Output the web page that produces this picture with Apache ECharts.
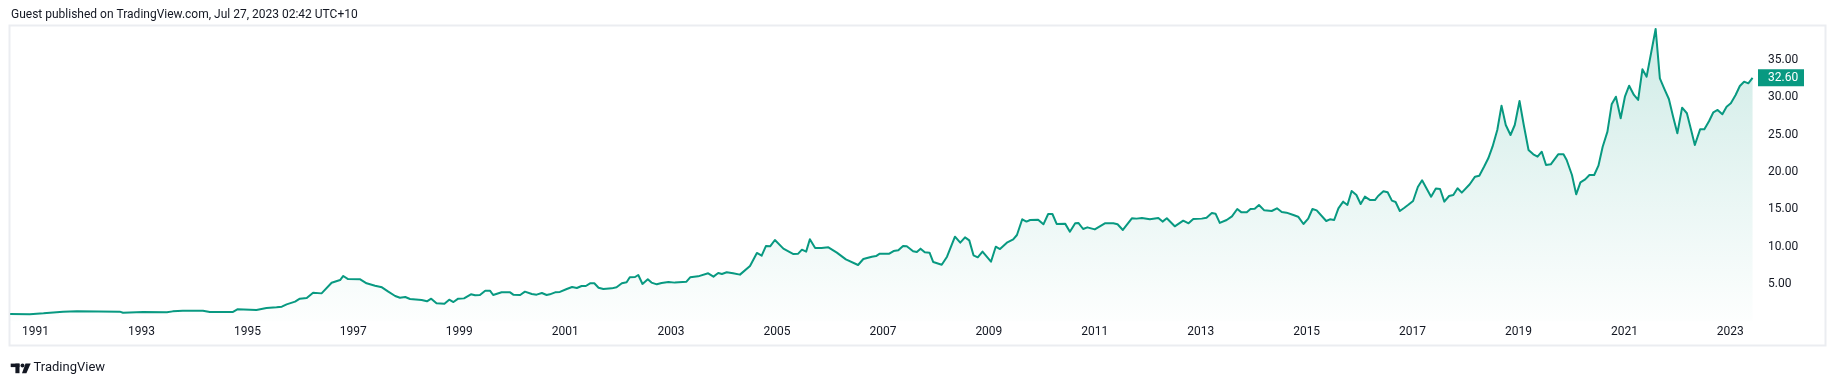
<!DOCTYPE html>
<html><head><meta charset="utf-8">
<style>html,body{margin:0;padding:0;background:#fff;}#chart{width:1836px;height:382px;}</style>
<script src="https://cdn.jsdelivr.net/npm/echarts@6/dist/echarts.min.js"></script>
</head><body><div id="chart"></div>
<script>
// ---- data (decimal years, prices) ----
const dates1990s = [1990.52,1990.89,1991.15,1991.52,1991.78,1992.59,1992.65,1993.03,1993.48,1993.59,1993.78,1994.16,1994.29,1994.72,1994.81,1995.17,1995.36,1995.55,1995.65,1995.74,1995.90,1995.99,1996.12,1996.24,1996.40,1996.59,1996.75,1996.81,1996.90,1997.13,1997.25,1997.41,1997.54,1997.66,1997.79,1997.88,1997.98,1998.07,1998.29,1998.39,1998.47,1998.57,1998.72,1998.81,1998.89,1998.98,1999.09,1999.22,1999.30,1999.39,1999.49,1999.58,1999.64,1999.80,1999.96];
const prices1990s = [0.98,0.96,1.07,1.29,1.33,1.29,1.15,1.24,1.20,1.33,1.42,1.42,1.24,1.24,1.60,1.51,1.78,1.87,1.96,2.27,2.63,3.03,3.12,3.83,3.74,5.17,5.53,6.07,5.66,5.62,5.09,4.77,4.55,3.97,3.39,3.16,3.25,2.99,2.85,2.68,3.03,2.41,2.36,2.90,2.58,3.03,3.07,3.61,3.48,3.52,4.10,4.10,3.52,3.88,3.88];

const dates2000s = [2000.02,2000.15,2000.24,2000.37,2000.46,2000.56,2000.65,2000.71,2000.81,2000.90,2001.03,2001.13,2001.22,2001.31,2001.39,2001.47,2001.55,2001.63,2001.72,2001.88,2001.97,2002.07,2002.16,2002.22,2002.32,2002.38,2002.46,2002.56,2002.63,2002.73,2002.82,2002.95,2003.07,2003.29,2003.36,2003.51,2003.70,2003.80,2003.89,2003.96,2004.05,2004.17,2004.30,2004.49,2004.62,2004.71,2004.79,2004.87,2004.96,2005.12,2005.31,2005.40,2005.47,2005.55,2005.62,2005.72,2005.84,2005.97,2006.13,2006.30,2006.53,2006.63,2006.79,2006.87,2006.94,2007.12,2007.20,2007.29,2007.38,2007.45,2007.57,2007.64,2007.71,2007.79,2007.88,2007.95,2008.11,2008.21,2008.36,2008.46,2008.55,2008.63,2008.71,2008.79,2008.88,2009.04,2009.13,2009.21,2009.35,2009.46,2009.53,2009.63,2009.71,2009.78,2009.93];
const prices2000s = [3.57,3.52,3.97,3.66,3.57,3.79,3.52,3.61,3.88,3.93,4.32,4.59,4.46,4.73,4.73,5.09,5.09,4.50,4.32,4.41,4.55,5.09,5.22,5.89,5.93,6.20,5.00,5.62,5.18,4.95,5.13,5.27,5.18,5.31,5.89,6.02,6.43,5.98,6.47,6.34,6.56,6.43,6.25,7.41,9.15,8.79,10.08,10.04,10.89,9.73,9.01,9.06,9.59,9.33,10.98,9.82,9.82,9.91,9.19,8.30,7.54,8.34,8.65,8.74,9.06,9.06,9.41,9.50,10.08,10.04,9.37,9.28,9.73,9.24,9.19,7.94,7.58,8.65,11.33,10.53,11.24,10.84,8.84,8.57,9.33,7.98,9.99,9.68,10.58,10.98,11.56,13.66,13.35,13.57,13.61];

const dates2010s = [2010.03,2010.12,2010.20,2010.28,2010.44,2010.53,2010.63,2010.69,2010.78,2010.86,2011.00,2011.19,2011.35,2011.43,2011.53,2011.70,2011.79,2011.89,2012.04,2012.20,2012.28,2012.36,2012.51,2012.67,2012.77,2012.86,2013.02,2013.11,2013.21,2013.28,2013.36,2013.49,2013.59,2013.69,2013.77,2013.87,2013.94,2014.02,2014.10,2014.20,2014.34,2014.44,2014.53,2014.62,2014.75,2014.84,2014.94,2015.03,2015.11,2015.19,2015.37,2015.44,2015.52,2015.60,2015.69,2015.77,2015.85,2015.94,2016.02,2016.10,2016.20,2016.29,2016.35,2016.45,2016.53,2016.61,2016.68,2016.76,2016.84,2016.92,2017.01,2017.10,2017.18,2017.27,2017.35,2017.44,2017.52,2017.60,2017.69,2017.77,2017.85,2017.93,2018.08,2018.18,2018.26,2018.35,2018.43,2018.51,2018.60,2018.68,2018.76,2018.85,2018.93,2019.02,2019.10,2019.19,2019.28,2019.36,2019.44,2019.52,2019.61,2019.75,2019.85,2019.91];
const prices2010s = [12.99,14.37,14.37,13.04,13.08,12.00,13.12,13.17,12.36,12.58,12.31,13.12,13.12,12.99,12.23,13.79,13.75,13.84,13.66,13.84,13.35,13.79,12.72,13.48,13.12,13.70,13.75,13.88,14.50,14.41,13.17,13.57,14.06,15.04,14.59,14.59,15.04,15.08,15.58,14.86,14.77,15.13,14.63,14.55,14.23,14.01,13.03,13.75,15.04,14.86,13.43,13.66,13.57,15.13,16.02,15.58,17.45,16.91,15.71,16.69,16.24,16.24,16.78,17.41,17.28,16.16,15.98,14.77,15.17,15.60,16.11,17.99,18.88,17.72,16.69,17.77,17.72,16.02,16.78,16.91,17.81,17.23,18.35,19.37,19.50,20.70,21.83,23.38,25.62,28.88,26.29,24.95,26.29,29.50,26.29,22.94,22.36,22.05,22.71,20.93,21.02,22.36,22.36,21.60];

const dates2020s = [2020.01,2020.09,2020.17,2020.26,2020.34,2020.43,2020.51,2020.59,2020.68,2020.76,2020.84,2020.93,2021.01,2021.09,2021.18,2021.26,2021.34,2021.42,2021.59,2021.67,2021.75,2021.84,2021.92,2022.00,2022.09,2022.18,2022.26,2022.33,2022.43,2022.51,2022.60,2022.68,2022.76,2022.85,2022.93,2023.01,2023.10,2023.18,2023.26,2023.34,2023.42];
const prices2020s = [19.59,17.00,18.61,19.00,19.59,19.59,20.84,23.38,25.40,29.06,30.08,27.19,30.08,31.55,30.31,29.64,33.75,32.76,39.15,32.54,31.20,29.77,27.40,25.18,28.61,27.86,25.62,23.61,25.71,25.71,26.82,27.99,28.30,27.72,28.74,29.19,30.31,31.51,32.09,31.87,32.60];

const yearTicks = [1991,1993,1995,1997,1999,2001,2003,2005,2007,2009,2011,2013,2015,2017,2019,2021,2023];
const priceTicks = [5,10,15,20,25,30,35];
const xRange = [1990.517, 2023.504];
const yRange = [0, 39.68];
const lastPrice = 32.60;
const titleText = 'Guest published on TradingView.com, Jul 27, 2023 02:42 UTC+10';
const footerText = 'TradingView';

// ---- build ----
const dates = [].concat(dates1990s, dates2000s, dates2010s, dates2020s);
const prices = [].concat(prices1990s, prices2000s, prices2010s, prices2020s);
const seriesData = dates.map((d, i) => [d, prices[i]]);

const FONT = 'Roboto, "Noto Sans", sans-serif';
const TXT = '#131722';
const TEAL = '#089981';
const W = 1836, H = 382;
const gridLeft = 10, gridRight = 79, gridTop = 25, gridBottom = 60.7;

const chart = echarts.init(document.getElementById('chart'), null, {renderer: 'canvas', width: W, height: H});

const baseGraphics = [
  {id: 'frame', type: 'rect', z: 0, silent: true,
   shape: {x: 9.5, y: 25.5, width: 1816, height: 320},
   style: {fill: 'none', stroke: '#ebedf1', lineWidth: 2}},
  {id: 'title', type: 'text', silent: true,
   style: {x: 11, y: 15, text: titleText, fill: TXT, font: '12px ' + FONT, verticalAlign: 'middle', align: 'left'}},
  {id: 'logoBar', type: 'rect', silent: true, shape: {x: 10.7, y: 363.6, width: 8.8, height: 3.5}, style: {fill: TXT}},
  {id: 'logoStem', type: 'rect', silent: true, shape: {x: 15.4, y: 363.6, width: 4.1, height: 9.6}, style: {fill: TXT}},
  {id: 'logoDot', type: 'circle', silent: true, shape: {cx: 22.5, cy: 365.5, r: 1.95}, style: {fill: TXT}},
  {id: 'logoV', type: 'polygon', silent: true, shape: {points: [[25.5, 363.6], [30.7, 363.6], [26.4, 373.2], [22.0, 373.2]]}, style: {fill: TXT}},
  {id: 'footer', type: 'text', silent: true,
   style: {x: 33.5, y: 368, text: footerText, fill: TXT, font: '13px ' + FONT, verticalAlign: 'middle', align: 'left'}}
];

const option = {
  animation: false,
  backgroundColor: '#ffffff',
  grid: {left: gridLeft, right: gridRight, top: gridTop, bottom: gridBottom, containLabel: false},
  xAxis: {
    type: 'value', min: xRange[0], max: xRange[1],
    axisLine: {show: false}, axisTick: {show: false}, splitLine: {show: false},
    axisLabel: {
      customValues: yearTicks,
      formatter: v => String(Math.round(v)),
      color: TXT, fontSize: 12, fontFamily: FONT, margin: 5
    }
  },
  yAxis: {
    type: 'value', position: 'right', min: yRange[0], max: yRange[1],
    axisLine: {show: false}, axisTick: {show: false}, splitLine: {show: false},
    axisLabel: {
      customValues: priceTicks,
      formatter: v => v.toFixed(2),
      color: TXT, fontSize: 12, fontFamily: FONT, margin: 11, align: 'left'
    }
  },
  series: [{
    type: 'line',
    data: seriesData,
    showSymbol: false,
    symbol: 'none',
    smooth: false,
    clip: true,
    lineStyle: {color: TEAL, width: 2, join: 'round'},
    areaStyle: {
      color: new echarts.graphic.LinearGradient(0, 0, 0, 1, [
        {offset: 0, color: 'rgba(8,153,129,0.28)'},
        {offset: 1, color: 'rgba(8,153,129,0.01)'}
      ])
    }
  }],
  graphic: baseGraphics
};
chart.setOption(option);

// last price label on the price scale
const py = chart.convertToPixel({yAxisIndex: 0}, lastPrice);
const axisX = W - gridRight;
chart.setOption({graphic: baseGraphics.concat([
  {id: 'lastBox', type: 'rect', silent: true, z: 10,
   shape: {x: axisX + 1, y: py - 8.5, width: 46, height: 17},
   style: {fill: TEAL}},
  {id: 'lastTxt', type: 'text', silent: true, z: 11,
   style: {x: axisX + 11, y: py, text: lastPrice.toFixed(2), fill: '#ffffff', font: '12px ' + FONT, verticalAlign: 'middle', align: 'left'}}
])});
</script>
</body></html>
